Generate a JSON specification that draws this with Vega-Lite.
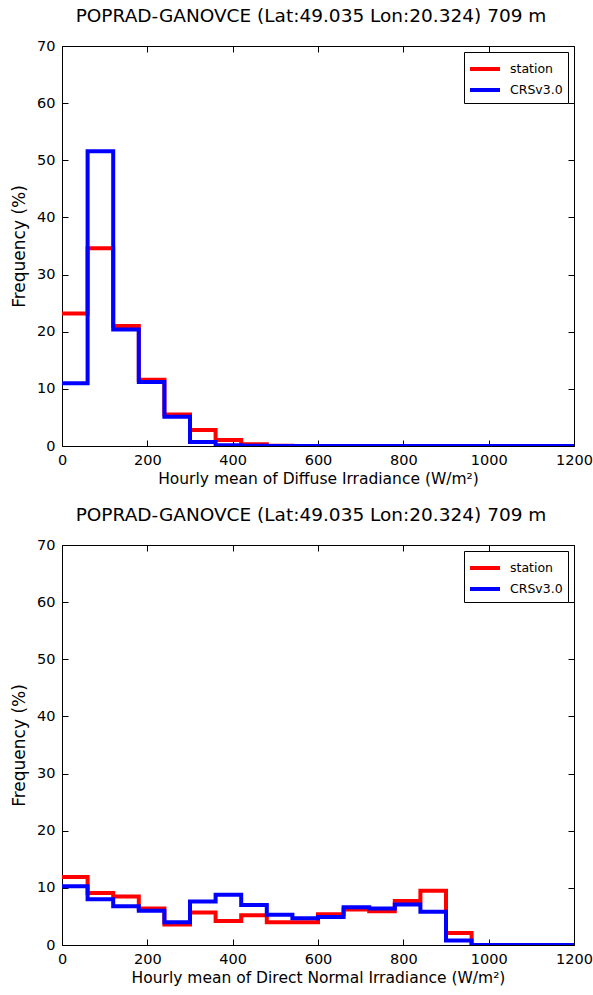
{
  "$schema": "https://vega.github.io/schema/vega-lite/v6.json",
  "padding": {"left": 10, "top": 6, "right": 5, "bottom": 0},
  "spacing": 17,
  "config": {
    "font": "DejaVu Sans",
    "view": {"stroke": "black", "strokeWidth": 1},
    "axis": {
      "domain": false,
      "grid": false,
      "ticks": true,
      "tickColor": "black",
      "tickSize": -6,
      "labelPadding": 13,
      "labelFontSize": 14.5,
      "labelColor": "black",
      "labelFlush": false,
      "titleFontSize": 15.5,
      "titleFontWeight": "normal",
      "titleColor": "black",
      "format": "d"
    },
    "title": {"fontSize": 18.5, "fontWeight": "normal", "color": "black"},
    "legend": {
      "orient": "top-right",
      "offset": 6,
      "strokeColor": "black",
      "fillColor": "white",
      "padding": 5,
      "symbolType": "M-1.1,0H1.9",
      "symbolStrokeWidth": 4,
      "symbolSize": 400,
      "labelFontSize": 12.5,
      "labelColor": "black",
      "labelOffset": 17,
      "rowPadding": 1,
      "title": null
    }
  },
  "datasets": {
    "diffuse": [
      {"bin": 0, "series": "station", "freq": 23.2},
      {"bin": 60, "series": "station", "freq": 34.6},
      {"bin": 120, "series": "station", "freq": 21.0},
      {"bin": 180, "series": "station", "freq": 11.6},
      {"bin": 240, "series": "station", "freq": 5.5},
      {"bin": 300, "series": "station", "freq": 2.8},
      {"bin": 360, "series": "station", "freq": 1.05},
      {"bin": 420, "series": "station", "freq": 0.3},
      {"bin": 480, "series": "station", "freq": 0.05},
      {"bin": 540, "series": "station", "freq": 0},
      {"bin": 600, "series": "station", "freq": 0},
      {"bin": 660, "series": "station", "freq": 0},
      {"bin": 720, "series": "station", "freq": 0},
      {"bin": 780, "series": "station", "freq": 0},
      {"bin": 840, "series": "station", "freq": 0},
      {"bin": 900, "series": "station", "freq": 0},
      {"bin": 960, "series": "station", "freq": 0},
      {"bin": 1020, "series": "station", "freq": 0},
      {"bin": 1080, "series": "station", "freq": 0},
      {"bin": 1140, "series": "station", "freq": 0},
      {"bin": 1200, "series": "station", "freq": 0},
      {"bin": 0, "series": "CRSv3.0", "freq": 11.0},
      {"bin": 60, "series": "CRSv3.0", "freq": 51.6},
      {"bin": 120, "series": "CRSv3.0", "freq": 20.4},
      {"bin": 180, "series": "CRSv3.0", "freq": 11.2},
      {"bin": 240, "series": "CRSv3.0", "freq": 5.1},
      {"bin": 300, "series": "CRSv3.0", "freq": 0.7},
      {"bin": 360, "series": "CRSv3.0", "freq": 0.15},
      {"bin": 420, "series": "CRSv3.0", "freq": 0.05},
      {"bin": 480, "series": "CRSv3.0", "freq": 0},
      {"bin": 540, "series": "CRSv3.0", "freq": 0},
      {"bin": 600, "series": "CRSv3.0", "freq": 0},
      {"bin": 660, "series": "CRSv3.0", "freq": 0},
      {"bin": 720, "series": "CRSv3.0", "freq": 0},
      {"bin": 780, "series": "CRSv3.0", "freq": 0},
      {"bin": 840, "series": "CRSv3.0", "freq": 0},
      {"bin": 900, "series": "CRSv3.0", "freq": 0},
      {"bin": 960, "series": "CRSv3.0", "freq": 0},
      {"bin": 1020, "series": "CRSv3.0", "freq": 0},
      {"bin": 1080, "series": "CRSv3.0", "freq": 0},
      {"bin": 1140, "series": "CRSv3.0", "freq": 0},
      {"bin": 1200, "series": "CRSv3.0", "freq": 0}
    ],
    "dni": [
      {"bin": 0, "series": "station", "freq": 11.9},
      {"bin": 60, "series": "station", "freq": 9.1},
      {"bin": 120, "series": "station", "freq": 8.5},
      {"bin": 180, "series": "station", "freq": 6.4},
      {"bin": 240, "series": "station", "freq": 3.6},
      {"bin": 300, "series": "station", "freq": 5.7},
      {"bin": 360, "series": "station", "freq": 4.2},
      {"bin": 420, "series": "station", "freq": 5.2},
      {"bin": 480, "series": "station", "freq": 4.0},
      {"bin": 540, "series": "station", "freq": 4.0},
      {"bin": 600, "series": "station", "freq": 5.4},
      {"bin": 660, "series": "station", "freq": 6.2},
      {"bin": 720, "series": "station", "freq": 5.9},
      {"bin": 780, "series": "station", "freq": 7.7},
      {"bin": 840, "series": "station", "freq": 9.5},
      {"bin": 900, "series": "station", "freq": 2.1},
      {"bin": 960, "series": "station", "freq": 0},
      {"bin": 1020, "series": "station", "freq": 0},
      {"bin": 1080, "series": "station", "freq": 0},
      {"bin": 1140, "series": "station", "freq": 0},
      {"bin": 1200, "series": "station", "freq": 0},
      {"bin": 0, "series": "CRSv3.0", "freq": 10.3},
      {"bin": 60, "series": "CRSv3.0", "freq": 8.0},
      {"bin": 120, "series": "CRSv3.0", "freq": 6.8},
      {"bin": 180, "series": "CRSv3.0", "freq": 6.0},
      {"bin": 240, "series": "CRSv3.0", "freq": 4.0},
      {"bin": 300, "series": "CRSv3.0", "freq": 7.6},
      {"bin": 360, "series": "CRSv3.0", "freq": 8.8},
      {"bin": 420, "series": "CRSv3.0", "freq": 7.0},
      {"bin": 480, "series": "CRSv3.0", "freq": 5.3},
      {"bin": 540, "series": "CRSv3.0", "freq": 4.7},
      {"bin": 600, "series": "CRSv3.0", "freq": 4.9},
      {"bin": 660, "series": "CRSv3.0", "freq": 6.6},
      {"bin": 720, "series": "CRSv3.0", "freq": 6.4},
      {"bin": 780, "series": "CRSv3.0", "freq": 7.1},
      {"bin": 840, "series": "CRSv3.0", "freq": 5.8},
      {"bin": 900, "series": "CRSv3.0", "freq": 0.8},
      {"bin": 960, "series": "CRSv3.0", "freq": 0},
      {"bin": 1020, "series": "CRSv3.0", "freq": 0},
      {"bin": 1080, "series": "CRSv3.0", "freq": 0},
      {"bin": 1140, "series": "CRSv3.0", "freq": 0},
      {"bin": 1200, "series": "CRSv3.0", "freq": 0}
    ]
  },
  "vconcat": [
    {
      "width": 512,
      "height": 400,
      "title": {"text": "POPRAD-GANOVCE (Lat:49.035 Lon:20.324) 709 m", "offset": 13, "dx": -7},
      "data": {"name": "diffuse"},
      "resolve": {"axis": {"x": "independent", "y": "independent"}},
      "layer": [
        {
          "mark": {"type": "line", "interpolate": "step-after", "strokeWidth": 4, "clip": true},
          "encoding": {
            "x": {"field": "bin", "type": "quantitative", "scale": {"domain": [0, 1200], "nice": false, "zero": false},
              "axis": {"title": "Hourly mean of Diffuse Irradiance (W/m²)", "values": [0, 200, 400, 600, 800, 1000, 1200], "titlePadding": 5}},
            "y": {"field": "freq", "type": "quantitative", "scale": {"domain": [0, 70], "nice": false},
              "axis": {"title": "Frequency (%)", "titleFontSize": 17, "values": [0, 10, 20, 30, 40, 50, 60, 70], "titlePadding": 8}},
            "color": {"field": "series", "type": "nominal", "sort": ["station", "CRSv3.0"],
              "scale": {"domain": ["station", "CRSv3.0"], "range": ["#ff0000", "#0000ff"]}}
          }
        },
        {
          "mark": {"type": "line", "opacity": 0},
          "encoding": {
            "x": {"field": "bin", "type": "quantitative", "scale": {"domain": [0, 1200], "nice": false, "zero": false}, "axis": {"orient": "top", "labels": false, "title": null, "values": [0, 200, 400, 600, 800, 1000, 1200]}},
            "y": {"field": "freq", "type": "quantitative", "scale": {"domain": [0, 70], "nice": false}, "axis": {"orient": "right", "labels": false, "title": null, "values": [0, 10, 20, 30, 40, 50, 60, 70]}}
          }
        }
      ]
    },
    {
      "width": 512,
      "height": 400,
      "title": {"text": "POPRAD-GANOVCE (Lat:49.035 Lon:20.324) 709 m", "offset": 13, "dx": -7},
      "data": {"name": "dni"},
      "resolve": {"axis": {"x": "independent", "y": "independent"}},
      "layer": [
        {
          "mark": {"type": "line", "interpolate": "step-after", "strokeWidth": 4, "clip": true},
          "encoding": {
            "x": {"field": "bin", "type": "quantitative", "scale": {"domain": [0, 1200], "nice": false, "zero": false},
              "axis": {"title": "Hourly mean of Direct Normal Irradiance (W/m²)", "values": [0, 200, 400, 600, 800, 1000, 1200], "titlePadding": 5}},
            "y": {"field": "freq", "type": "quantitative", "scale": {"domain": [0, 70], "nice": false},
              "axis": {"title": "Frequency (%)", "titleFontSize": 17, "values": [0, 10, 20, 30, 40, 50, 60, 70], "titlePadding": 8}},
            "color": {"field": "series", "type": "nominal", "sort": ["station", "CRSv3.0"],
              "scale": {"domain": ["station", "CRSv3.0"], "range": ["#ff0000", "#0000ff"]}}
          }
        },
        {
          "mark": {"type": "line", "opacity": 0},
          "encoding": {
            "x": {"field": "bin", "type": "quantitative", "scale": {"domain": [0, 1200], "nice": false, "zero": false}, "axis": {"orient": "top", "labels": false, "title": null, "values": [0, 200, 400, 600, 800, 1000, 1200]}},
            "y": {"field": "freq", "type": "quantitative", "scale": {"domain": [0, 70], "nice": false}, "axis": {"orient": "right", "labels": false, "title": null, "values": [0, 10, 20, 30, 40, 50, 60, 70]}}
          }
        }
      ]
    }
  ],
  "resolve": {"legend": {"color": "independent"}, "scale": {"color": "independent"}}
}
